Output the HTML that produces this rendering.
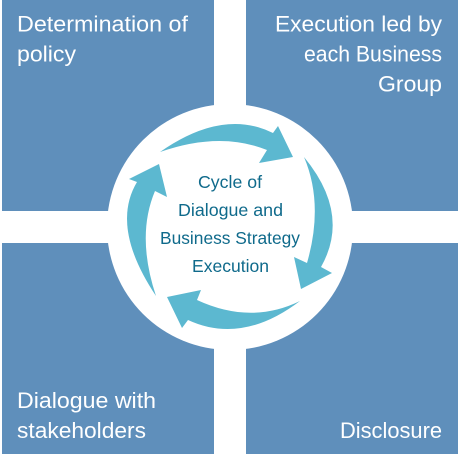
<!DOCTYPE html>
<html lang="en">
<head>
<meta charset="utf-8">
<title>Cycle of Dialogue and Business Strategy Execution</title>
<style>
html,body{margin:0;padding:0;background:#fff;width:473px;height:454px;overflow:hidden}
svg{display:block}
.q{font-family:"Liberation Sans",sans-serif;font-size:22px;fill:#fff}
.c{font-family:"Liberation Sans",sans-serif;font-size:17.5px;fill:#0f6a8b}
</style>
</head>
<body>
<svg width="473" height="454" viewBox="0 0 473 454">
  <rect x="2" y="0" width="212" height="211" fill="#5f8fbb"/>
  <rect x="246" y="0" width="212" height="211" fill="#5f8fbb"/>
  <rect x="2" y="243" width="212" height="211" fill="#5f8fbb"/>
  <rect x="246" y="243" width="212" height="211" fill="#5f8fbb"/>
  <circle cx="230" cy="227" r="123" fill="#fff"/>

  <path d="M160,152 Q223,108 273,133 L278,126 L293,157 L259,163 L267,150 Q220,131 160,152 Z" fill="#5cb8d0"/>
  <path d="M304,157 Q351,214 321,267 L332,273 L301,289 L294,257 L307,263 Q324,204 304,157 Z" fill="#5cb8d0"/>
  <path d="M300,301 Q242,345 188,320 L182,328 L167,297 L201,290 L197,300 Q251,325 300,301 Z" fill="#5cb8d0"/>
  <path d="M156,296 Q110,227 137,182 L129,179 L159,164 L167,197 L155,191 Q136,236 156,296 Z" fill="#5cb8d0"/>

  <g>
    <text class="q" x="17" y="31.5" textLength="171" lengthAdjust="spacingAndGlyphs">Determination of</text>
    <text class="q" x="17" y="61.5" textLength="59" lengthAdjust="spacingAndGlyphs">policy</text>
  </g>
  <g>
    <text class="q" x="275" y="31.5" textLength="167" lengthAdjust="spacingAndGlyphs">Execution led by</text>
    <text class="q" x="304" y="61.5" textLength="138" lengthAdjust="spacingAndGlyphs">each Business</text>
    <text class="q" x="378" y="91.5" textLength="64" lengthAdjust="spacingAndGlyphs">Group</text>
  </g>
  <g>
    <text class="q" x="17" y="408" textLength="139" lengthAdjust="spacingAndGlyphs">Dialogue with</text>
    <text class="q" x="17" y="438" textLength="129" lengthAdjust="spacingAndGlyphs">stakeholders</text>
  </g>
  <text class="q" x="340" y="438" textLength="102" lengthAdjust="spacingAndGlyphs">Disclosure</text>

  <g>
    <text class="c" x="198" y="188" textLength="64" lengthAdjust="spacingAndGlyphs">Cycle of</text>
    <text class="c" x="178" y="216" textLength="105" lengthAdjust="spacingAndGlyphs">Dialogue and</text>
    <text class="c" x="160" y="244" textLength="140" lengthAdjust="spacingAndGlyphs">Business Strategy</text>
    <text class="c" x="192" y="272" textLength="77" lengthAdjust="spacingAndGlyphs">Execution</text>
  </g>
</svg>
</body>
</html>
